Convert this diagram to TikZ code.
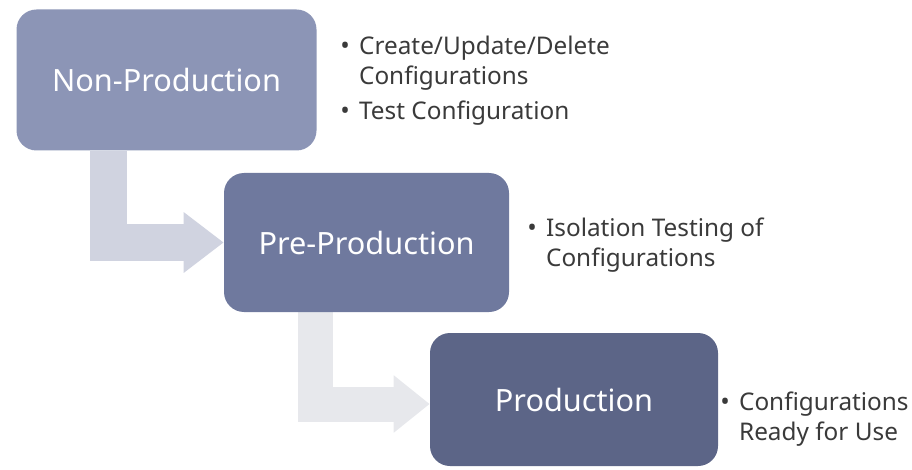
\documentclass[tikz,border=0pt]{standalone}
\usepackage{fontspec}
\setmainfont{Noto Sans}
\usetikzlibrary{arrows.meta,backgrounds,calc}

\definecolor{nonprodfill}{HTML}{8C95B6}
\definecolor{preprodfill}{HTML}{6F799E}
\definecolor{prodfill}{HTML}{5C6587}
\definecolor{flowone}{HTML}{D0D3E0}
\definecolor{flowtwo}{HTML}{E7E8EC}
\definecolor{notetext}{HTML}{3A3A3A}

\newcommand\dotmark{{\fontsize{19}{12}\selectfont •}}

\begin{document}
\begin{tikzpicture}
[x=0.75pt,y=-0.75pt,
stage/.style={rectangle,rounded corners=15pt,text=white,inner sep=0pt,
  font=\fontsize{23}{27}\selectfont},
notes/.style={anchor=base west,text=notetext,inner sep=0pt,
  font=\fontsize{18.25}{22.5}\selectfont},
flow/.style={line width=27.75pt,-{Triangle[length=30pt,width=43.5pt]}}]
\useasboundingbox (0,0) rectangle (912,470);
% stages
\node[stage,fill=nonprodfill,minimum width=225pt,minimum height=105.75pt] (nonprod) at (166.5,80) {Non-Production};
\node[stage,fill=preprodfill,minimum width=213.75pt,minimum height=104.25pt] (preprod) at (366.5,242.5) {Pre-Production};
\node[stage,fill=prodfill,minimum width=216pt,minimum height=99.75pt] (prod) at (574,399.5) {Production};
% notes
\node[notes] (nonprod notes) at (340,55) {\begin{tabular}[t]{@{}l@{\hspace{7pt}}l@{}}
\dotmark & Create/Update/Delete\\
 & Configurations\\[3.5pt]
\dotmark & Test Configuration
\end{tabular}};
\node[notes] (preprod notes) at (527,236) {\begin{tabular}[t]{@{}l@{\hspace{7pt}}l@{}}
\dotmark & Isolation Testing of\\
 & Configurations
\end{tabular}};
\node[notes] (prod notes) at (720,410) {\begin{tabular}[t]{@{}l@{\hspace{7pt}}l@{}}
\dotmark & Configurations\\
 & Ready for Use
\end{tabular}};
% flow arrows
\begin{scope}[on background layer]
\draw[flow,draw=flowone] ($(nonprod.south west)+(92.5,0)$) |- (preprod.west);
\draw[flow,draw=flowtwo,line width=26.25pt,-{Triangle[length=27pt,width=41.25pt]}]
  ($(preprod.south west)+(91.8,0)$) |- ($(prod.west)+(0,4.5)$);
\end{scope}
\end{tikzpicture}
\end{document}
